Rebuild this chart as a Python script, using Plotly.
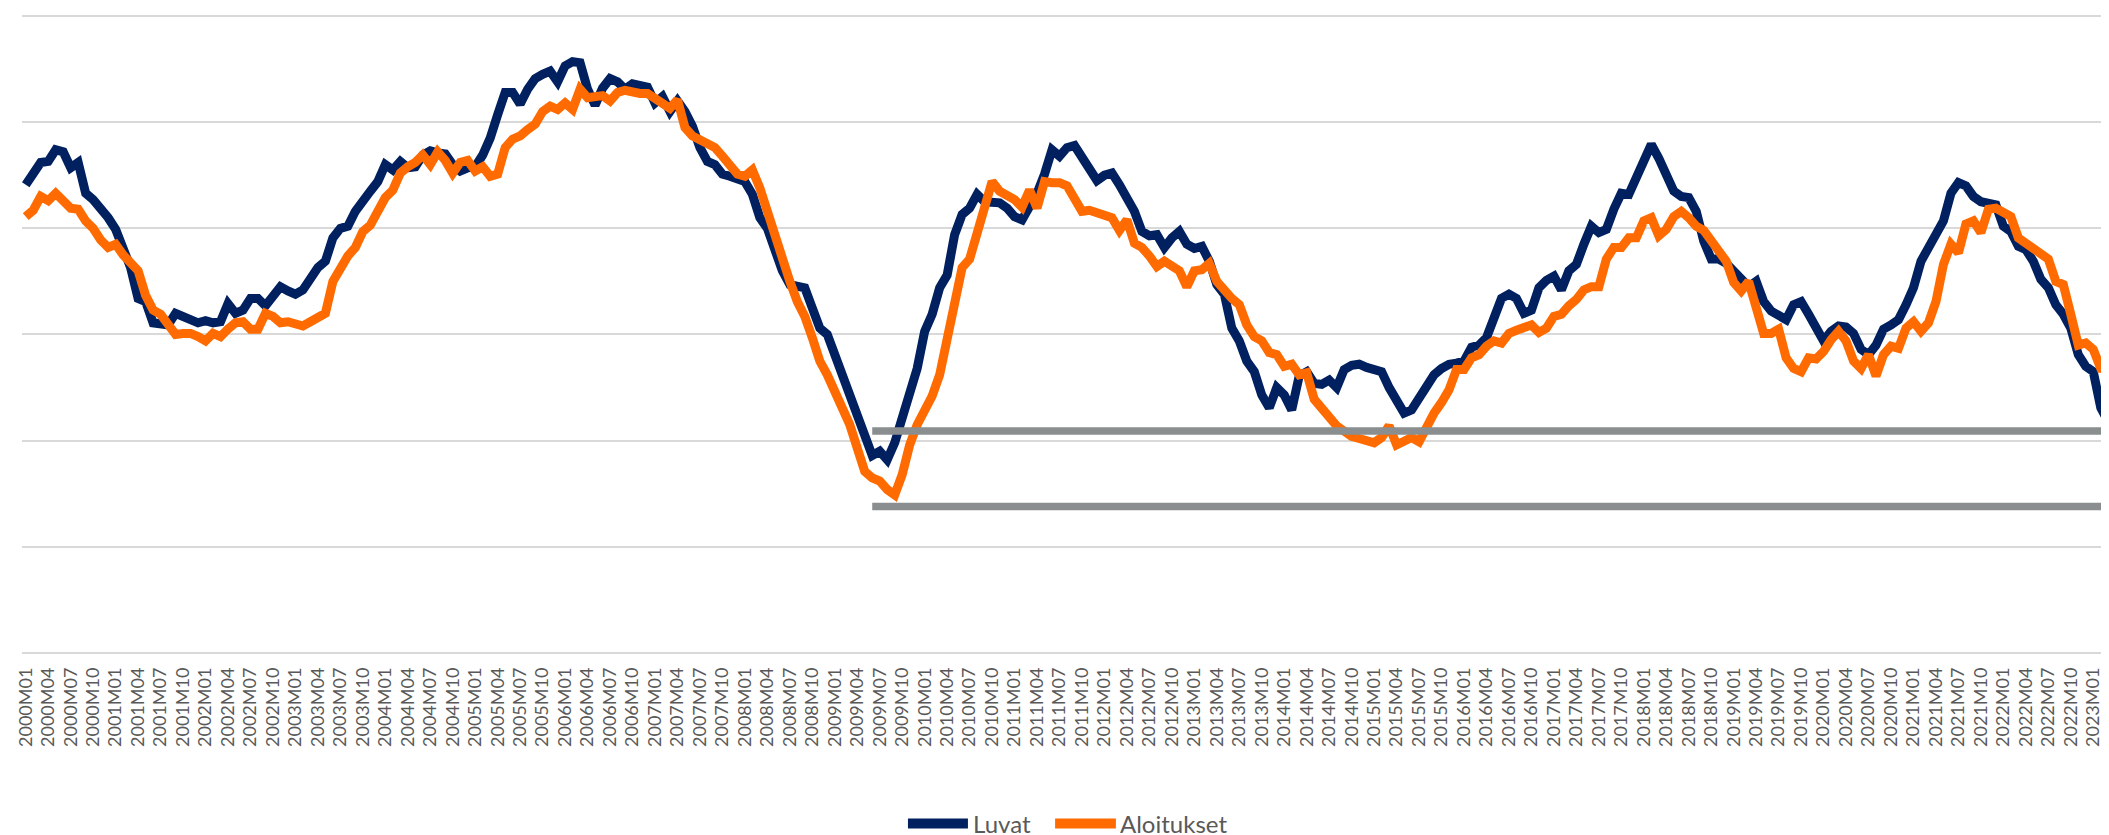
import plotly.graph_objects as go

# Monthly categories 2000M01 .. 2023M03
months = [f"{y}M{m:02d}" for y in range(2000, 2024) for m in range(1, 13)][:279]

luvat = [
    44.1, 45.1, 46.2, 46.3, 47.4, 47.2, 45.7, 46.2, 43.3, 42.7, 41.9, 41.0,
    39.9, 38.3, 36.3, 33.4, 33.1, 31.1, 30.9, 30.9, 32.0, 31.7, 31.2, 31.1,
    31.3, 31.1, 31.2, 32.9, 32.0, 32.3, 33.4, 33.4, 32.7, 33.6, 34.5, 34.1,
    33.8, 34.2, 35.3, 36.3, 36.9, 39.1, 40.0, 40.2, 41.6, 42.7, 43.5, 44.4,
    46.0, 45.5, 46.3, 45.7, 45.8, 46.9, 47.3, 47.1, 47.0, 46.0, 45.4, 45.7,
    45.8, 46.9, 48.5, 50.7, 52.8, 52.8, 51.7, 53.1, 54.1, 54.5, 54.8, 53.8,
    55.3, 55.7, 55.6, 53.1, 51.6, 53.2, 54.1, 53.8, 53.1, 53.6, 53.4, 53.3,
    51.8, 52.4, 51.0, 52.0, 51.0, 49.6, 47.6, 46.3, 46.0, 45.1, 44.9, 44.6,
    44.4, 43.2, 41.0, 40.0, 37.8, 36.0, 34.7, 34.5, 34.4, 32.5, 30.6, 30.0,
    28.1, 26.5, 24.6, 22.6, 20.5, 18.6, 19.0, 18.2, 19.8, 22.1, 24.3, 26.8,
    30.3, 31.9, 34.4, 35.6, 39.4, 41.3, 41.9, 43.2, 42.5, 42.5, 42.4, 41.9,
    41.1, 40.8, 41.9, 43.3, 45.1, 47.4, 46.8, 47.6, 47.8, 46.6, 45.4, 44.5,
    45.0, 45.2, 44.1, 43.0, 41.6, 39.7, 39.3, 39.4, 38.2, 39.1, 39.7, 38.5,
    38.1, 38.3, 36.9, 34.7, 33.8, 30.6, 29.4, 27.5, 26.5, 24.3, 23.1, 25.0,
    24.3, 22.9, 26.1, 26.5, 25.4, 25.3, 25.7, 25.0, 26.7, 27.1, 27.2, 26.9,
    26.8, 26.5, 25.0, 23.9, 22.6, 22.9, 24.0, 25.3, 26.2, 26.8, 27.2, 27.3,
    27.5, 28.8, 29.0, 29.7, 31.6, 33.4, 33.8, 33.4, 32.0, 32.3, 34.4, 35.1,
    35.5, 34.2, 36.0, 36.6, 38.5, 40.2, 39.6, 39.9, 41.8, 43.3, 43.2, 44.9,
    46.5, 47.9, 46.6, 44.9, 43.5, 43.0, 42.9, 41.6, 38.8, 37.1, 37.1, 36.7,
    36.0, 35.2, 34.5, 35.0, 33.1, 32.2, 31.7, 31.4, 32.8, 33.1, 31.9, 30.5,
    29.4, 30.3, 30.8, 30.7, 30.1, 28.6, 28.1, 29.0, 30.5, 30.9, 31.4, 32.8,
    34.4, 36.9, 38.2, 39.3, 40.7, 43.3, 44.3, 44.0, 43.0, 42.5, 42.4, 42.2,
    40.2, 39.7, 38.3, 38.0, 36.9, 35.2, 34.4, 32.8, 31.9, 30.6, 28.1, 27.0,
    26.5, 23.1, 21.8,
]

aloitukset = [
    41.1, 41.7, 43.0, 42.6, 43.3, 42.5, 41.9, 41.8, 40.7, 40.0, 38.9, 38.2,
    38.5, 37.5, 36.6, 36.0, 33.7, 32.3, 31.9, 30.8, 30.0, 30.1, 30.1, 29.8,
    29.4, 30.1, 29.8, 30.5, 31.1, 31.2, 30.5, 30.5, 32.0, 31.7, 31.1, 31.2,
    31.1, 30.8, 31.2, 31.7, 32.0, 35.0, 36.3, 37.4, 38.2, 39.7, 40.3, 41.6,
    42.9, 43.6, 45.2, 45.8, 46.2, 46.9, 46.0, 47.2, 46.4, 45.2, 46.2, 46.4,
    45.4, 45.8, 44.9, 45.1, 47.6, 48.4, 48.7, 49.3, 49.8, 51.0, 51.5, 51.2,
    51.8, 51.2, 53.1, 52.3, 52.5, 52.5, 52.0, 52.8, 53.0, 52.8, 52.7, 52.7,
    52.3, 51.9, 51.3, 52.1, 49.5, 48.7, 48.4, 47.9, 47.6, 46.8, 46.0, 45.1,
    44.9, 45.5, 43.8, 41.6, 39.1, 36.6, 35.0, 33.1, 31.7, 29.7, 27.5, 26.2,
    24.6, 23.4, 21.5, 19.3, 17.1, 16.5, 16.2, 15.4, 14.9, 16.8, 19.6, 21.5,
    22.8, 24.2, 26.2, 29.7, 33.4, 36.3, 37.1, 39.4, 41.9, 44.4, 43.5, 43.2,
    42.7, 42.0, 43.6, 41.9, 44.4, 44.3, 44.3, 44.0, 42.9, 41.6, 41.7, 41.4,
    41.1, 41.0, 39.8, 40.8, 38.6, 38.2, 37.4, 36.4, 36.9, 36.4, 36.0, 34.5,
    36.0, 36.1, 36.7, 35.0, 34.1, 33.4, 32.8, 30.9, 29.8, 29.4, 28.3, 28.1,
    27.0, 27.2, 26.2, 26.4, 23.9, 23.1, 22.1, 21.4, 20.9, 20.4, 20.2, 19.9,
    19.8, 20.3, 21.4, 19.6, 19.9, 20.3, 19.9, 21.5, 22.6, 23.6, 24.8, 26.7,
    26.7, 27.8, 28.1, 28.9, 29.4, 29.2, 30.1, 30.4, 30.6, 30.9, 30.2, 30.6,
    31.7, 31.9, 32.7, 33.3, 34.2, 34.5, 34.5, 37.1, 38.2, 38.2, 39.1, 39.1,
    40.7, 41.0, 39.3, 39.9, 41.1, 41.6, 41.0, 40.2, 39.8, 38.8, 37.8, 36.9,
    34.9, 34.1, 35.0, 32.5, 30.1, 30.1, 30.5, 27.8, 26.8, 26.5, 27.8, 27.7,
    28.4, 29.5, 30.3, 29.4, 27.5, 26.8, 28.1, 26.1, 28.1, 28.9, 28.7, 30.6,
    31.2, 30.3, 31.1, 33.1, 36.6, 38.5, 37.7, 40.4, 40.7, 39.6, 41.8, 41.9,
    41.4, 41.1, 39.1, 38.6, 38.2, 37.5, 37.1, 35.0, 34.7, 31.9, 29.0, 29.2,
    28.6, 26.8, 26.7,
]

tick_labels = months[::3]
series_names = ["Luvat", "Aloitukset"]
reference_levels = [20.9, 13.8]
reference_start = "2009M06"

x = list(range(len(months)))
tick_vals = x[::3]

NAVY = "#002060"
ORANGE = "#FF6B00"
GRAY = "#8A8E8E"
TEXT = "#595959"
FONT = "Lato, Open Sans, sans-serif"

fig = go.Figure()
for name, vals, col in zip(series_names, [luvat, aloitukset], [NAVY, ORANGE]):
    fig.add_trace(go.Scatter(x=x, y=vals, name=name, mode="lines",
                             line=dict(color=col, width=9), showlegend=False))
i0 = months.index(reference_start)
for lvl in reference_levels:
    fig.add_trace(go.Scatter(x=[i0, len(months) - 0.5], y=[lvl, lvl], mode="lines",
                             line=dict(color=GRAY, width=7.5),
                             showlegend=False, hoverinfo="skip"))

# legend drawn below the plot: line sample + label for each series
legend_y = -0.245
legend_items = [(0.4239, 0.4526, 0.4541), (0.4943, 0.5234, 0.5244)]
for (lx0, lx1, tx), name, col in zip(legend_items, series_names, [NAVY, ORANGE]):
    fig.add_shape(type="line", xref="paper", yref="paper", x0=lx0, x1=lx1,
                  y0=legend_y, y1=legend_y, line=dict(color=col, width=10))
    fig.add_annotation(xref="paper", yref="paper", x=tx, y=legend_y, text=name,
                       showarrow=False, xanchor="left", yanchor="middle",
                       font=dict(size=24, color=TEXT, family=FONT))

fig.update_layout(
    width=2109, height=835,
    margin=dict(l=14, r=5, t=0, b=180),
    paper_bgcolor="white", plot_bgcolor="white",
    font=dict(family=FONT, color=TEXT),
    showlegend=False,
    xaxis=dict(range=[-0.5, len(months) - 0.5], tickmode="array",
               tickvals=tick_vals, ticktext=tick_labels, tickangle=-90,
               tickfont=dict(size=18, color=TEXT),
               showgrid=False, zeroline=False, showline=False, ticks=""),
    yaxis=dict(range=[-0.94, 60.75], tick0=0, dtick=10, showticklabels=False,
               showgrid=True, gridcolor="#D9D9D9", gridwidth=2,
               zeroline=False, showline=False, ticks=""),
)

fig.write_html("out.html")
